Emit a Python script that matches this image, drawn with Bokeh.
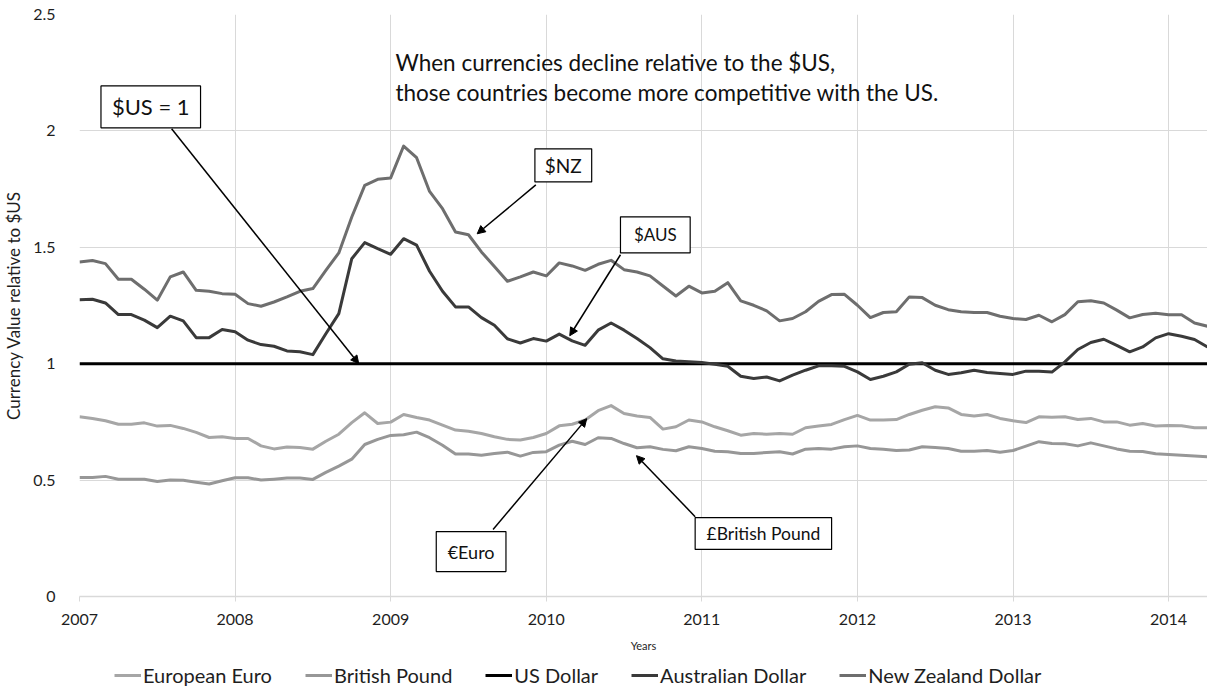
from bokeh.plotting import figure
from bokeh.layouts import column
from bokeh.models import (Range1d, FixedTicker, Legend, LegendItem, BoxAnnotation,
                          Label, Arrow, NormalHead)
from bokeh.embed import file_html
from bokeh.resources import INLINE

FONT = "Lato"

# monthly observations, Jan 2007 .. Apr 2014 (value of 1 $US in each currency)
months = [2007 + i / 12 for i in range(88)]

euro = [0.772, 0.765, 0.755, 0.740, 0.740, 0.746, 0.732, 0.735, 0.722, 0.705, 0.683, 0.686,
        0.679, 0.679, 0.647, 0.634, 0.642, 0.640, 0.633, 0.667, 0.697, 0.747, 0.789, 0.743,
        0.749, 0.782, 0.769, 0.758, 0.736, 0.715, 0.710, 0.700, 0.686, 0.675, 0.672, 0.683,
        0.700, 0.733, 0.740, 0.758, 0.798, 0.820, 0.786, 0.775, 0.769, 0.719, 0.729, 0.758,
        0.750, 0.729, 0.712, 0.693, 0.700, 0.697, 0.700, 0.697, 0.725, 0.732, 0.739, 0.760,
        0.778, 0.758, 0.758, 0.760, 0.782, 0.800, 0.815, 0.810, 0.782, 0.775, 0.782, 0.765,
        0.755, 0.747, 0.772, 0.770, 0.772, 0.760, 0.765, 0.750, 0.750, 0.736, 0.743, 0.732,
        0.735, 0.733, 0.725, 0.725]

gbp = [0.511, 0.511, 0.516, 0.504, 0.504, 0.504, 0.494, 0.500, 0.499, 0.491, 0.483, 0.497,
       0.510, 0.510, 0.500, 0.504, 0.509, 0.509, 0.503, 0.533, 0.560, 0.590, 0.653, 0.675,
       0.692, 0.695, 0.706, 0.682, 0.650, 0.612, 0.612, 0.607, 0.614, 0.620, 0.603, 0.619,
       0.622, 0.650, 0.667, 0.653, 0.682, 0.679, 0.657, 0.639, 0.643, 0.632, 0.626, 0.643,
       0.636, 0.624, 0.622, 0.614, 0.614, 0.619, 0.622, 0.612, 0.633, 0.636, 0.633, 0.643,
       0.647, 0.636, 0.633, 0.627, 0.629, 0.643, 0.640, 0.636, 0.624, 0.624, 0.627, 0.620,
       0.627, 0.646, 0.665, 0.657, 0.656, 0.647, 0.660, 0.647, 0.634, 0.624, 0.623, 0.613,
       0.610, 0.607, 0.604, 0.600]

usd = [1.0, 1.0, 1.0, 1.0, 1.0, 1.0, 1.0, 1.0, 1.0, 1.0, 1.0, 1.0,
       1.0, 1.0, 1.0, 1.0, 1.0, 1.0, 1.0, 1.0, 1.0, 1.0, 1.0, 1.0,
       1.0, 1.0, 1.0, 1.0, 1.0, 1.0, 1.0, 1.0, 1.0, 1.0, 1.0, 1.0,
       1.0, 1.0, 1.0, 1.0, 1.0, 1.0, 1.0, 1.0, 1.0, 1.0, 1.0, 1.0,
       1.0, 1.0, 1.0, 1.0, 1.0, 1.0, 1.0, 1.0, 1.0, 1.0, 1.0, 1.0,
       1.0, 1.0, 1.0, 1.0, 1.0, 1.0, 1.0, 1.0, 1.0, 1.0, 1.0, 1.0,
       1.0, 1.0, 1.0, 1.0, 1.0, 1.0, 1.0, 1.0, 1.0, 1.0, 1.0, 1.0,
       1.0, 1.0, 1.0, 1.0]

aud = [1.275, 1.277, 1.261, 1.211, 1.211, 1.187, 1.155, 1.204, 1.184, 1.112, 1.112, 1.147,
       1.137, 1.101, 1.082, 1.075, 1.055, 1.051, 1.039, 1.129, 1.215, 1.451, 1.520, 1.494,
       1.470, 1.537, 1.509, 1.397, 1.311, 1.244, 1.244, 1.198, 1.165, 1.107, 1.089, 1.108,
       1.097, 1.127, 1.098, 1.079, 1.144, 1.175, 1.144, 1.108, 1.069, 1.021, 1.012, 1.008,
       1.005, 0.998, 0.989, 0.946, 0.936, 0.943, 0.926, 0.951, 0.972, 0.991, 0.991, 0.989,
       0.965, 0.932, 0.946, 0.965, 0.998, 1.004, 0.972, 0.954, 0.961, 0.972, 0.962, 0.958,
       0.954, 0.968, 0.968, 0.964, 1.008, 1.061, 1.091, 1.105, 1.079, 1.051, 1.072, 1.111,
       1.129, 1.118, 1.104, 1.072]

nzd = [1.437, 1.443, 1.430, 1.363, 1.363, 1.320, 1.273, 1.373, 1.394, 1.315, 1.311, 1.301,
       1.298, 1.258, 1.247, 1.265, 1.287, 1.311, 1.323, 1.401, 1.476, 1.630, 1.766, 1.792,
       1.798, 1.935, 1.885, 1.740, 1.666, 1.566, 1.554, 1.480, 1.418, 1.354, 1.373, 1.394,
       1.377, 1.433, 1.420, 1.401, 1.427, 1.444, 1.404, 1.394, 1.377, 1.334, 1.291, 1.333,
       1.304, 1.311, 1.348, 1.270, 1.251, 1.227, 1.184, 1.194, 1.223, 1.268, 1.297, 1.298,
       1.251, 1.198, 1.220, 1.223, 1.287, 1.284, 1.251, 1.232, 1.223, 1.220, 1.220, 1.204,
       1.194, 1.190, 1.208, 1.180, 1.211, 1.266, 1.270, 1.261, 1.230, 1.197, 1.211, 1.217,
       1.210, 1.210, 1.175, 1.161]

series_names = ["European Euro", "British Pound", "US Dollar", "Australian Dollar", "New Zealand Dollar"]
series_values = [euro, gbp, usd, aud, nzd]
series_colors = ["#a6a6a6", "#979797", "#000000", "#3a3a3a", "#6e6e6e"]
series_widths = [3, 3, 3, 3, 3]

year_ticks = [2007, 2008, 2009, 2010, 2011, 2012, 2013, 2014]
y_ticks = [0, 0.5, 1, 1.5, 2, 2.5]
y_tick_labels = ["0", "0.5", "1", "1.5", "2", "2.5"]

p = figure(width=1207, height=656, output_backend="svg", toolbar_location=None,
           x_range=Range1d(2007, 2014.25), y_range=Range1d(0, 2.5),
           min_border_left=74, min_border_right=0, min_border_top=14, min_border_bottom=60)
p.outline_line_color = None
p.background_fill_color = "white"
p.border_fill_color = "white"

# axes
p.xaxis.ticker = FixedTicker(ticks=year_ticks)
p.xaxis.major_label_overrides = {y: str(y) for y in year_ticks}
p.xaxis.axis_line_color = "#d9d9d9"
p.xaxis.axis_line_width = 1.5
p.xaxis.major_tick_line_color = "#d9d9d9"
p.xaxis.major_tick_out = 5
p.xaxis.major_tick_in = 0
p.xaxis.minor_tick_line_color = None
p.xaxis.major_label_standoff = 12
p.xaxis.axis_label = "Years"
p.xaxis.axis_label_text_font_size = "11px"
p.xaxis.axis_label_text_font_style = "normal"
p.xaxis.axis_label_standoff = 11

p.yaxis.ticker = FixedTicker(ticks=y_ticks)
p.yaxis.major_label_overrides = {v: s for v, s in zip(y_ticks, y_tick_labels)}
p.yaxis.axis_line_color = None
p.yaxis.major_tick_line_color = None
p.yaxis.minor_tick_line_color = None
p.yaxis.major_label_standoff = 18
p.yaxis.axis_label = "Currency Value relative to $US"
p.yaxis.axis_label_text_font_size = "17px"
p.yaxis.axis_label_text_font_style = "normal"
p.yaxis.axis_label_standoff = 6

for ax in (p.xaxis, p.yaxis):
    ax.major_label_text_font = FONT
    ax.major_label_text_font_size = "16px"
    ax.major_label_text_color = "#1e1e1e"
    ax.axis_label_text_font = FONT
    ax.axis_label_text_color = "#1e1e1e"

p.xgrid.ticker = FixedTicker(ticks=year_ticks)
p.ygrid.ticker = FixedTicker(ticks=y_ticks)
p.xgrid.grid_line_color = "#d9d9d9"
p.ygrid.grid_line_color = "#d9d9d9"
p.xgrid.grid_line_width = 1
p.ygrid.grid_line_width = 1

for vals, col, w in zip(series_values, series_colors, series_widths):
    p.line(months, vals, line_color=col, line_width=w, line_join="round")

# annotation: note text
note_lines = ["When currencies decline relative to the $US,",
              "those countries become more competitive with the US."]
for txt, yy in zip(note_lines, [2.292, 2.167]):
    p.add_layout(Label(x=2009.031, y=yy, text=txt, text_align="left", text_baseline="middle",
                       text_font=FONT, text_font_size="22.5px", text_color="#111111"))

# callout boxes: (label, left, right, bottom, top, arrow start, arrow end, font size)
callouts = [
    ("$US = 1", 2007.138, 2007.778, 2.013, 2.193, (2007.592, 2.009), (2008.795, 1.0), "22px"),
    ("$NZ", 2009.927, 2010.292, 1.781, 1.923, (2009.933, 1.768), (2009.556, 1.558), "19px"),
    ("$AUS", 2010.477, 2010.925, 1.476, 1.631, (2010.477, 1.468), (2010.151, 1.120), "17px"),
    ("€Euro", 2009.293, 2009.741, 0.107, 0.279, (2009.658, 0.288), (2010.260, 0.764), "18px"),
    ("£British Pound", 2010.957, 2011.834, 0.202, 0.339, (2010.957, 0.343), (2010.580, 0.605), "17.5px"),
]
for txt, l, r_, b, t, (xs, ys), (xe, ye), fs in callouts:
    p.add_layout(Arrow(x_start=xs, y_start=ys, x_end=xe, y_end=ye, line_color="black", line_width=1.5,
                       end=NormalHead(size=8, line_color="black", fill_color="black", line_width=1)))
    p.add_layout(BoxAnnotation(left=l, right=r_, bottom=b, top=t, fill_color="white", fill_alpha=1,
                               line_color="black", line_alpha=1, line_width=1.2))
    p.add_layout(Label(x=(l + r_) / 2, y=(b + t) / 2, text=txt, text_align="center",
                       text_baseline="middle", text_font=FONT, text_font_size=fs, text_color="#111111"))

# legend strip below the chart: same series, drawn outside its visible range so only
# the legend entries (with the series' line styles) show
lf = figure(width=1207, height=34, output_backend="svg", toolbar_location=None,
            x_axis_type=None, y_axis_type=None, min_border=0,
            x_range=Range1d(0, 1), y_range=Range1d(0, 1))
lf.outline_line_color = None
items = []
for name, vals, col, w in zip(series_names, series_values, series_colors, series_widths):
    r = lf.line(months, vals, line_color=col, line_width=w)
    items.append(LegendItem(label=name, renderers=[r]))
legend = Legend(items=items, orientation="horizontal", location=(35, 3),
                label_text_font=FONT, label_text_font_size="20px", label_text_color="#1e1e1e",
                glyph_width=27, glyph_height=22, label_standoff=2, spacing=33,
                padding=1, margin=0, border_line_color=None, background_fill_alpha=0)
lf.add_layout(legend, "center")

layout = column(p, lf, spacing=0)
open("out.html", "w").write(file_html(layout, INLINE))
